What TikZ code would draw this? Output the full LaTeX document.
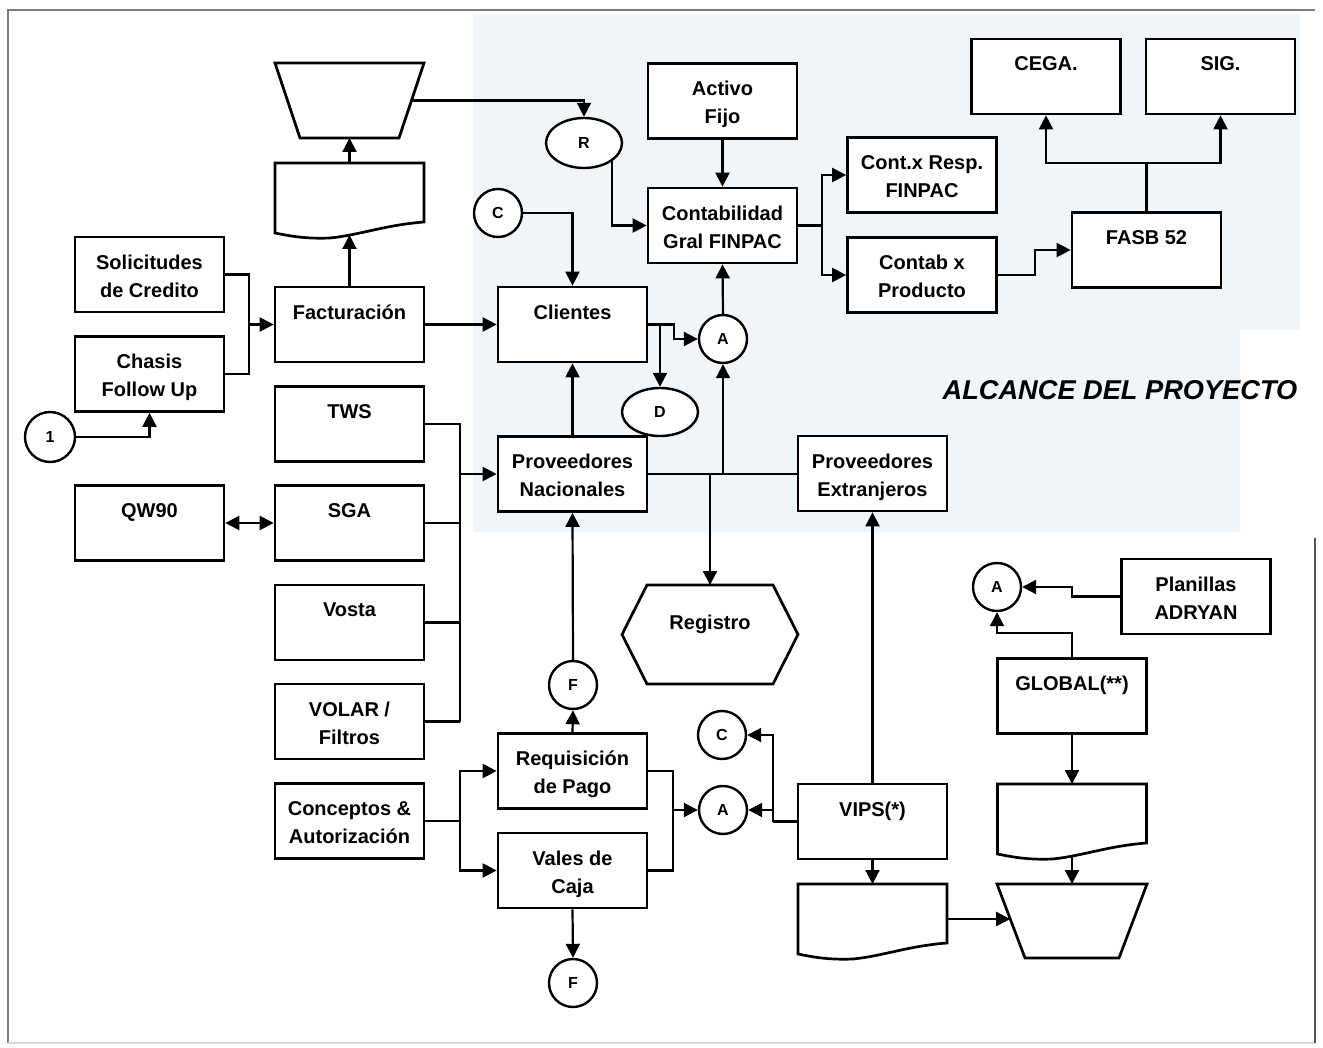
\documentclass[tikz,border=0pt]{standalone}
\usepackage{fontspec}
\setmainfont{Liberation Sans}
\usetikzlibrary{arrows.meta,calc,shapes.geometric}
\definecolor{scanblue}{RGB}{239,245,248}
\definecolor{framegray}{RGB}{125,125,125}
\definecolor{framelight}{RGB}{215,215,215}
\definecolor{framedark}{RGB}{90,80,85}
% a process box with its caption set from the top edge
\newcommand\flowbox[3]{%
  \node[box] (#1) at (#2) {};
  \node[lbl] (#1-t) at ([yshift=-9.3pt]#1.north) {#3};}
\begin{document}
\begin{tikzpicture}[x=0.5pt,y=-0.5pt,
  box/.style={draw=black, line width=1.35pt, fill=white, minimum width=74.5pt,
    minimum height=37.5pt, inner sep=0pt},
  ghost/.style={minimum width=74.5pt, inner sep=0pt, outer sep=0pt},
  lbl/.style={font=\bfseries\fontsize{10}{14}\selectfont, align=center,
    anchor=north, inner sep=0pt},
  conn/.style={circle, draw, line width=1.2pt, fill=white, minimum size=24pt,
    inner sep=0pt, font=\bfseries\fontsize{8}{9}\selectfont},
  oval/.style={ellipse, draw, line width=1.2pt, fill=white, minimum width=38pt,
    minimum height=25pt, inner sep=0pt, font=\bfseries\fontsize{8}{9}\selectfont},
  line/.style={line width=1.1pt},
  arr/.style={line width=1.1pt, -{Triangle[length=7pt,width=7pt]}},
  outline/.style={draw, line width=1.35pt, fill=white, line join=miter}
]
\useasboundingbox (0,0) rectangle (1323,1048);
\fill[white] (0,0) rectangle (1323,1048);
% shaded scope area
\fill[scanblue] (473,15) -- (1300,15) -- (1300,330) -- (1240,330)
  -- (1240,532) -- (473,532) -- cycle;
% page frame
\draw[framegray, line width=0.8pt] (8,1043) -- (8,10) -- (1315,10);
\draw[framelight, line width=0.8pt] (8,1043) -- (1315,1043);
\draw[framedark, line width=1pt] (1315,538) -- (1315,1043);

% ---------- left column ----------
\flowbox{soli}{149.5,274.5}{Solicitudes\\de Credito}
\flowbox{chasis}{149.5,374}{Chasis\\Follow Up}
\flowbox{qw}{149.5,523}{QW90}
\node[conn, minimum size=25pt] (one) at (50,437) {1};

\flowbox{fact}{349.5,324.5}{Facturación}
\flowbox{tws}{349.5,424}{TWS}
\flowbox{sga}{349.5,523}{SGA}
\flowbox{vosta}{349.5,622.5}{Vosta}
\flowbox{volar}{349.5,721.5}{VOLAR /\\Filtros}
\flowbox{conc}{349.5,821}{Conceptos \&\\Autorización}

% document and manual-operation shapes above Facturacion
\node[ghost, minimum height=37.5pt] (man1) at (349.5,100.5) {};
\draw[outline, shift={(man1.north west)}] (0,0) -- (149,0) -- (124,75)
  -- (25,75) -- cycle;
\node[ghost, minimum height=35pt] (doc1) at (349.5,198) {};
\draw[outline, shift={(doc1.north west)}] (0,0) -- (149,0) -- (149,59)
  .. controls (110,62) and (85,72) .. (55,75)
  .. controls (30,76) and (15,73) .. (0,70) -- cycle;
\coordinate (m1r) at ($(man1.north west)+(136.5,37.5)$);

% ---------- middle column ----------
\flowbox{cli}{572.5,324.5}{Clientes}
\flowbox{pnac}{572.5,474}{Proveedores\\Nacionales}
\flowbox{req}{572.5,771}{Requisición\\de Pago}
\flowbox{vales}{572.5,870.5}{Vales de\\Caja}
\node[conn] (cC1) at (498,213) {C};
\node[oval] (R) at (584,143) {R};
\node[oval, minimum height=24pt] (D) at (660,412) {D};
\node[conn] (F1) at (573,685) {F};
\node[conn] (F2) at (573,983) {F};

\flowbox{activo}{722.5,101}{Activo\\Fijo}
\flowbox{conta}{722.5,225.5}{Contabilidad\\Gral FINPAC}
\node[conn] (aA1) at (723,339) {A};
\node[conn] (C2) at (722,735) {C};
\node[conn] (A2) at (723,810) {A};

% Registro (preparation hexagon)
\node[ghost, minimum width=88pt, minimum height=49.5pt] (reg) at (710,634.5) {};
\draw[outline, shift={(reg.north west)}] (25,0) -- (151,0) -- (176,49.5)
  -- (151,99) -- (25,99) -- (0,49.5) -- cycle;
\node[lbl] (reg-t) at ([yshift=-14.8pt]reg.north) {Registro};

% ---------- right part ----------
\flowbox{pext}{872.5,473.5}{Proveedores\\Extranjeros}
\flowbox{vips}{872.5,821.5}{VIPS(*)}
\flowbox{cresp}{922,175}{Cont.x Resp.\\FINPAC}
\flowbox{cprod}{922,275}{Contab x\\Producto}
\flowbox{fasb}{1146.5,250}{FASB 52}
\flowbox{cega}{1046,76.5}{CEGA.}
\flowbox{sig}{1220.5,76.5}{SIG.}
\flowbox{global}{1072,696}{GLOBAL(**)}
\flowbox{plan}{1196,596.5}{Planillas\\ADRYAN}
\node[conn] (A3) at (997,587) {A};

\node[ghost, minimum height=35pt] (doc2) at (872.5,919) {};
\draw[outline, shift={(doc2.north west)}] (0,0) -- (149,0) -- (149,59)
  .. controls (110,62) and (85,72) .. (55,75)
  .. controls (30,76) and (15,73) .. (0,70) -- cycle;
\node[ghost, minimum width=74.5pt, minimum height=35pt] (doc3) at (1072,819) {};
\draw[outline, shift={(doc3.north west)}] (0,0) -- (149,0) -- (149,59)
  .. controls (110,62) and (85,72) .. (55,75)
  .. controls (30,76) and (15,73) .. (0,70) -- cycle;
\node[ghost, minimum width=75pt, minimum height=37pt] (man2) at (1072,921) {};
\draw[outline, shift={(man2.north west)}] (0,0) -- (150,0) -- (122,74)
  -- (28,74) -- cycle;
\coordinate (m2l) at ($(man2.north west)+(13.2,35)$);

\node[font=\bfseries\itshape\fontsize{13.6}{16}\selectfont] (title)
  at (1120,390) {ALCANCE DEL PROYECTO};

% ---------- connectors ----------
\draw[arr] (doc1.north) -- (man1.south);
\draw[arr] (fact.north) -- ($(doc1.south)+(0,2)$);
\draw[arr] (m1r) -| (R.north);
\draw[arr] ($(R.center)+(28,17)$) |- (conta.west);
\draw[arr] (activo.south) -- (conta.north);
\draw[arr] (cC1.east) -| (cli.north);

\coordinate (jf) at (249,324.5);
\draw[line] (soli.east) -| (jf);
\draw[line] (chasis.east) -| (jf);
\draw[arr] (jf) -- (fact.west);
\draw[arr] (one.east) -| (chasis.south);
\draw[line, {Triangle[length=7pt,width=7pt]}-{Triangle[length=7pt,width=7pt]}]
  (qw.east) -- (sga.west);
\draw[arr] (fact.east) -- (cli.west);

% systems feeding Proveedores Nacionales
\coordinate (busb) at (460,721.5);
\draw[line] (tws.east) -| (busb);
\draw[line] (volar.east) -- (busb);
\draw[line] (sga.east) -- (sga.east -| busb);
\draw[line] (vosta.east) -- (vosta.east -| busb);
\draw[arr] (pnac.west -| busb) -- (pnac.west);

\draw[arr] (pnac.north) -- (cli.south);
\draw[arr] (F1.north) -- (pnac.south);
\draw[arr] (req.north) -- (F1.south);
\draw[arr] (cli.east) -- ++(26,0) |- (aA1.west);
\draw[arr] (cli.east -| D.north) -- (D.north);

\draw[line] (pnac.east) -- (pnac.east -| pext.west);
\draw[arr] (pnac.east -| aA1.south) -- (aA1.south);
\draw[arr] (pnac.east -| reg.north) -- (reg.north);
\draw[arr] (aA1.north) -- (conta.south);
\draw[arr] (vips.north) -- (pext.south);

\coordinate (cs) at (822,225.5);
\draw[line] (conta.east) -- (cs);
\draw[arr] (cs) |- (cresp.west);
\draw[arr] (cs) |- (cprod.west);
\draw[arr] (cprod.east) -- ++(37,0) |- (fasb.west);
\coordinate (fs) at (1146.5,163);
\draw[line] (fasb.north) -- (fs);
\draw[arr] (fs) -| (cega.south);
\draw[arr] (fs) -| (sig.south);

\coordinate (cj) at (460,821);
\draw[line] (conc.east) -- (cj);
\draw[arr] (cj) |- (req.west);
\draw[arr] (cj) |- (vales.west);
\coordinate (rj) at (673,810);
\draw[line] (req.east) -| (rj);
\draw[line] (vales.east) -| (rj);
\draw[arr] (rj) -- (A2.west);
\draw[arr] (vales.south) -- (F2.north);

\coordinate (vj) at (773,821.5);
\draw[line] (vips.west) -- (vj);
\draw[arr] (vj) |- (C2.east);
\draw[arr] (vj |- A2.east) -- (A2.east);
\draw[arr] (vips.south) -- (doc2.north);
\draw[arr] (doc2.east) -- (doc2.east -| m2l);
\draw[arr] (global.south) -- (doc3.north);
\draw[arr] ($(doc3.south)+(0,1.5)$) -- (man2.north);
\draw[arr] (plan.west) -- ++(-48,0) |- (A3.east);
\draw[arr] (global.north) -- ++(0,-24) -| (A3.south);
\end{tikzpicture}
\end{document}
